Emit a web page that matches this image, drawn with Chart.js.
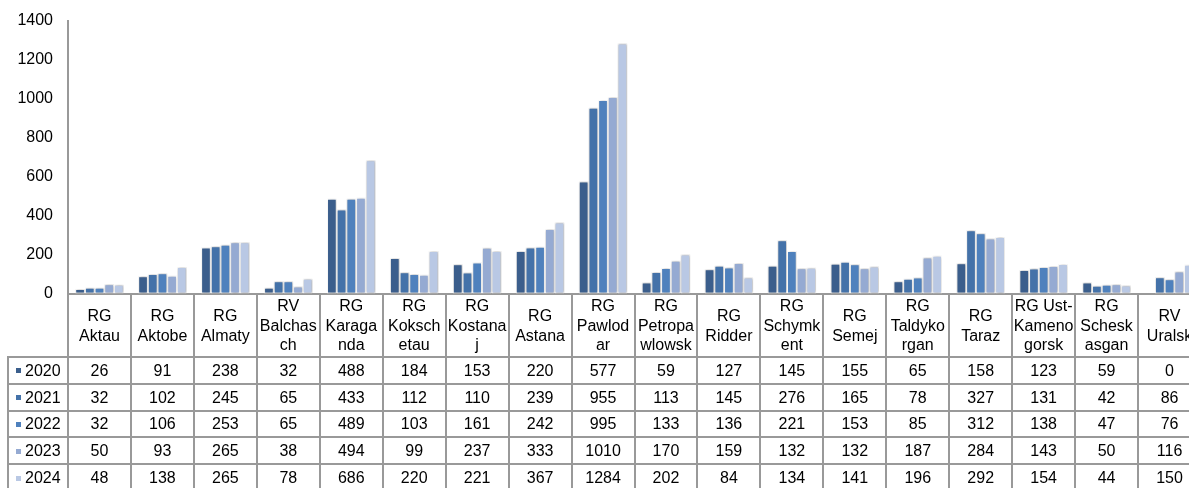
<!DOCTYPE html>
<html><head><meta charset="utf-8">
<script src="https://cdn.jsdelivr.net/npm/chart.js@4.4.1/dist/chart.umd.min.js"></script>
<style>html,body{margin:0;padding:0;overflow:hidden;background:#fff}</style>
</head><body>
<canvas id="c" width="1206" height="488"></canvas>
<script>
const categories = [
  ["RG","Aktau"],["RG","Aktobe"],["RG","Almaty"],["RV","Balchas","ch"],["RG","Karaga","nda"],
  ["RG","Koksch","etau"],["RG","Kostana","j"],["RG","Astana"],["RG","Pawlod","ar"],["RG","Petropa","wlowsk"],
  ["RG","Ridder"],["RG","Schymk","ent"],["RG","Semej"],["RG","Taldyko","rgan"],["RG","Taraz"],
  ["RG Ust-","Kameno","gorsk"],["RG","Schesk","asgan"],["RV","Uralsk"]
];
const years = ["2020","2021","2022","2023","2024"];
const v2020 = [26,91,238,32,488,184,153,220,577,59,127,145,155,65,158,123,59,0];
const v2021 = [32,102,245,65,433,112,110,239,955,113,145,276,165,78,327,131,42,86];
const v2022 = [32,106,253,65,489,103,161,242,995,133,136,221,153,85,312,138,47,76];
const v2023 = [50,93,265,38,494,99,237,333,1010,170,159,132,132,187,284,143,50,116];
const v2024 = [48,138,265,78,686,220,221,367,1284,202,84,134,141,196,292,154,44,150];
const yTicks = [0,200,400,600,800,1000,1200,1400];
const colors = ["#3B5E8C","#4472A9","#4F81BD","#95AAD2","#B9C8E4"];
const series = [v2020,v2021,v2022,v2023,v2024];

const FAMILY = "'Liberation Sans', Arial, sans-serif";
const FONT = "16px " + FAMILY;
const LINE = "#999999";

const shadowPlugin = {
  id: 'shadow',
  beforeDatasetsDraw(chart) {
    const ctx = chart.ctx;
    ctx.save();
    ctx.shadowColor = 'rgba(0,0,0,0.35)';
    ctx.shadowBlur = 3;
    ctx.shadowOffsetX = 0.5;
    ctx.shadowOffsetY = 0;
  },
  afterDatasetsDraw(chart) { chart.ctx.restore(); }
};

const tablePlugin = {
  id: 'datatable',
  afterDraw(chart) {
    const {ctx, chartArea, scales: {x}} = chart;
    const top = chartArea.bottom;
    const headH = 63, rowH = 26.8;
    const n = categories.length;
    const step = x.getPixelForValue(1) - x.getPixelForValue(0);
    const leftX = 8;
    const bottom = 500;
    ctx.save();
    ctx.strokeStyle = LINE;
    ctx.lineWidth = 2;
    for (let i = 0; i <= n; i++) {
      const xx = Math.round(x.getPixelForValue(i) - step / 2);
      ctx.beginPath(); ctx.moveTo(xx, top); ctx.lineTo(xx, bottom); ctx.stroke();
    }
    ctx.beginPath(); ctx.moveTo(leftX, top + headH); ctx.lineTo(leftX, bottom); ctx.stroke();
    for (let k = 0; k <= years.length; k++) {
      const yy = Math.round(top + headH + k * rowH);
      ctx.beginPath(); ctx.moveTo(leftX - 1, yy); ctx.lineTo(chart.width, yy); ctx.stroke();
    }
    ctx.fillStyle = '#000';
    ctx.font = FONT;
    ctx.textAlign = 'center';
    ctx.textBaseline = 'middle';
    const lh = 19.5;
    for (let i = 0; i < n; i++) {
      const cx = x.getPixelForValue(i);
      const lines = categories[i];
      const y0 = top + headH / 2 - (lines.length - 1) * lh / 2 + 1;
      lines.forEach((t, j) => ctx.fillText(t, cx, y0 + j * lh));
      series.forEach((s, k) => {
        ctx.fillText(String(s[i]), cx, top + headH + k * rowH + rowH / 2 + 1);
      });
    }
    ctx.textAlign = 'left';
    years.forEach((yr, k) => {
      const cy = top + headH + k * rowH + rowH / 2 + 1;
      ctx.fillStyle = colors[k];
      ctx.fillRect(16, Math.round(cy - 3), 5, 5);
      ctx.fillStyle = '#000';
      ctx.fillText(yr, 25, cy);
    });
    ctx.restore();
  }
};

new Chart(document.getElementById('c'), {
  type: 'bar',
  data: {
    labels: categories,
    datasets: years.map((yr, k) => ({
      label: yr,
      data: series[k],
      backgroundColor: colors[k],
      borderColor: '#ffffff',
      borderWidth: 1,
      borderSkipped: false,
      categoryPercentage: 0.77,
      barPercentage: 1.0
    }))
  },
  options: {
    responsive: false,
    animation: false,
    devicePixelRatio: 1,
    layout: { padding: { top: 21, right: 5, left: 0, bottom: 0 } },
    plugins: { legend: { display: false }, tooltip: { enabled: false } },
    scales: {
      x: {
        ticks: { display: false },
        grid: { drawOnChartArea: false, drawTicks: false },
        border: { display: true, color: LINE, width: 2 },
        afterFit: s => { s.height = 194; s.paddingLeft = 0; s.paddingRight = 0; }
      },
      y: {
        min: 0, max: 1400,
        afterBuildTicks: s => { s.ticks = yTicks.map(v => ({ value: v })); },
        ticks: { color: '#000', font: { family: FAMILY, size: 16 }, padding: 15, callback: v => String(v) },
        grid: { drawOnChartArea: false, drawTicks: false },
        border: { display: true, color: LINE, width: 2 },
        afterFit: s => { s.width = 68; s.paddingTop = 0; s.paddingBottom = 0; }
      }
    }
  },
  plugins: [shadowPlugin, tablePlugin]
});
</script>
</body></html>
